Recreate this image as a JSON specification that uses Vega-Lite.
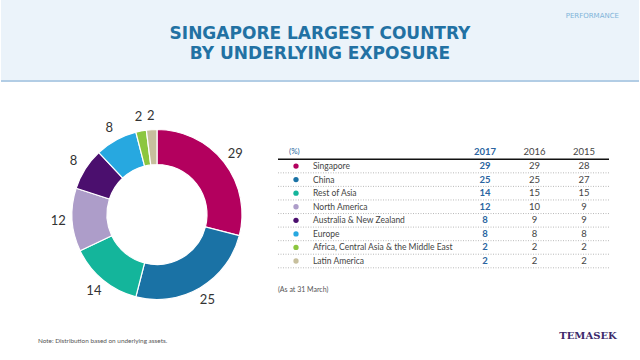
{
  "$schema": "https://vega.github.io/schema/vega-lite/v6.json",
  "width": 640,
  "height": 360,
  "autosize": {"type": "fit", "contains": "padding"},
  "padding": 0,
  "background": "white",
  "config": {"view": {"stroke": null}, "font": "Lato", "text": {"font": "Lato", "baseline": "middle"}},
  "datasets": {
    "regions": [
      {"region": "Singapore", "idx": 1, "2017": 29, "2016": 29, "2015": 28},
      {"region": "China", "idx": 2, "2017": 25, "2016": 25, "2015": 27},
      {"region": "Rest of Asia", "idx": 3, "2017": 14, "2016": 15, "2015": 15},
      {"region": "North America", "idx": 4, "2017": 12, "2016": 10, "2015": 9},
      {"region": "Australia & New Zealand", "idx": 5, "2017": 8, "2016": 9, "2015": 9},
      {"region": "Europe", "idx": 6, "2017": 8, "2016": 8, "2015": 8},
      {"region": "Africa, Central Asia & the Middle East", "idx": 7, "2017": 2, "2016": 2, "2015": 2},
      {"region": "Latin America", "idx": 8, "2017": 2, "2016": 2, "2015": 2}
    ],
    "header": [
      {"row": "(%)", "year": "2017"},
      {"row": "(%)", "year": "2016"},
      {"row": "(%)", "year": "2015"}
    ]
  },
  "resolve": {"scale": {"x": "independent", "y": "independent", "color": "independent", "theta": "independent", "radius": "independent"}},
  "layer": [
    {
      "data": {"values": [{"part": "header"}]},
      "mark": {"type": "rect", "color": "#ebf3fa"},
      "encoding": {
        "y": {"field": "part", "type": "nominal", "axis": null, "scale": {"type": "band", "range": [0, 81], "paddingInner": 0, "paddingOuter": 0}}
      }
    },
    {
      "data": {"values": [{"part": "header"}]},
      "mark": {"type": "rule", "color": "#b2cde5", "strokeWidth": 2},
      "encoding": {
        "y": {"field": "part", "type": "nominal", "bandPosition": 1, "axis": null, "scale": {"type": "band", "range": [0, 81], "paddingInner": 0, "paddingOuter": 0}}
      }
    },
    {
      "data": {"values": [{"line": "SINGAPORE LARGEST COUNTRY"}, {"line": "BY UNDERLYING EXPOSURE"}]},
      "mark": {"type": "text", "font": "DejaVu Sans", "fontSize": 17, "fontWeight": 700, "color": "#2271a3", "align": "center"},
      "encoding": {
        "text": {"field": "line"},
        "y": {"field": "line", "type": "nominal", "axis": null, "sort": null, "scale": {"type": "point", "padding": 0, "range": [33.5, 53.5]}}
      }
    },
    {
      "data": {"values": [{"label": "PERFORMANCE"}]},
      "mark": {"type": "text", "font": "DejaVu Sans", "fontSize": 7, "color": "#7fb3d9", "align": "right"},
      "encoding": {
        "text": {"field": "label"},
        "x": {"field": "label", "type": "nominal", "axis": null, "scale": {"type": "point", "range": [618, 618]}},
        "y": {"field": "label", "type": "nominal", "axis": null, "scale": {"type": "point", "range": [16, 16]}}
      }
    },
    {
      "data": {"name": "regions"},
      "mark": {"type": "arc", "innerRadius": 50, "outerRadius": 85, "stroke": "white", "strokeWidth": 1.2},
      "encoding": {
        "theta": {"field": "2017", "type": "quantitative", "stack": true},
        "order": {"field": "idx", "type": "quantitative"},
        "color": {"field": "region", "type": "nominal", "legend": null, "scale": {
          "domain": ["Singapore", "China", "Rest of Asia", "North America", "Australia & New Zealand", "Europe", "Africa, Central Asia & the Middle East", "Latin America"],
          "range": ["#b3005e", "#1a72a5", "#14b59b", "#ad9dc9", "#4b0f6e", "#27a8e0", "#8cc63f", "#c7bf9d"]}},
        "x": {"datum": "donut", "type": "nominal", "axis": null, "scale": {"type": "point", "range": [156, 156]}},
        "y": {"datum": "donut", "type": "nominal", "axis": null, "scale": {"type": "point", "range": [214.5, 214.5]}}
      }
    },
    {
      "data": {"name": "regions"},
      "mark": {"type": "text", "radius": 99, "fontSize": 13, "color": "#333333", "align": "center"},
      "encoding": {
        "theta": {"field": "2017", "type": "quantitative", "stack": true},
        "order": {"field": "idx", "type": "quantitative"},
        "text": {"field": "2017", "type": "quantitative"},
        "x": {"datum": "donut", "type": "nominal", "axis": null, "scale": {"type": "point", "range": [156, 156]}},
        "y": {"datum": "donut", "type": "nominal", "axis": null, "scale": {"type": "point", "range": [214.5, 214.5]}}
      }
    },
    {
      "data": {"values": [{"row": "(%)"}]},
      "mark": {"type": "rule", "color": "#111111", "strokeWidth": 1.5},
      "encoding": {
        "y": {"field": "row", "type": "nominal", "bandPosition": 1, "axis": null, "scale": {"type": "band", "paddingInner": 0, "paddingOuter": 0, "range": [145.7, 267.8],
          "domain": ["(%)", "Singapore", "China", "Rest of Asia", "North America", "Australia & New Zealand", "Europe", "Africa, Central Asia & the Middle East", "Latin America"]}},
        "x": {"datum": 0, "type": "quantitative", "axis": null, "scale": {"domain": [0, 1], "range": [277, 608]}},
        "x2": {"datum": 1}
      }
    },
    {
      "data": {"name": "regions"},
      "mark": {"type": "rule", "color": "#a8a8a8", "strokeWidth": 0.8, "strokeDash": [1, 1.5]},
      "encoding": {
        "y": {"field": "region", "type": "nominal", "bandPosition": 1, "axis": null, "scale": {"type": "band", "paddingInner": 0, "paddingOuter": 0, "range": [145.7, 267.8],
          "domain": ["(%)", "Singapore", "China", "Rest of Asia", "North America", "Australia & New Zealand", "Europe", "Africa, Central Asia & the Middle East", "Latin America"]}},
        "x": {"datum": 0, "type": "quantitative", "axis": null, "scale": {"domain": [0, 1], "range": [277, 608]}},
        "x2": {"datum": 1}
      }
    },
    {
      "data": {"values": [{"row": "(%)"}]},
      "mark": {"type": "text", "fontSize": 8, "color": "#2a6aa3", "align": "left"},
      "encoding": {
        "text": {"field": "row"},
        "y": {"field": "row", "type": "nominal", "axis": null, "scale": {"type": "band", "paddingInner": 0, "paddingOuter": 0, "range": [145.7, 267.8],
          "domain": ["(%)", "Singapore", "China", "Rest of Asia", "North America", "Australia & New Zealand", "Europe", "Africa, Central Asia & the Middle East", "Latin America"]}},
        "x": {"field": "row", "type": "nominal", "axis": null, "scale": {"type": "point", "range": [288, 288]}}
      }
    },
    {
      "data": {"name": "header"},
      "transform": [{"filter": "datum.year == '2017'"}],
      "mark": {"type": "text", "fontSize": 9.5, "fontWeight": 700, "color": "#2a64a0", "align": "center"},
      "encoding": {
        "text": {"field": "year"},
        "y": {"field": "row", "type": "nominal", "axis": null, "scale": {"type": "band", "paddingInner": 0, "paddingOuter": 0, "range": [145.7, 267.8],
          "domain": ["(%)", "Singapore", "China", "Rest of Asia", "North America", "Australia & New Zealand", "Europe", "Africa, Central Asia & the Middle East", "Latin America"]}},
        "x": {"field": "year", "type": "nominal", "axis": null, "scale": {"type": "point", "padding": 0, "domain": ["2017", "2016", "2015"], "range": [484, 583]}}
      }
    },
    {
      "data": {"name": "header"},
      "transform": [{"filter": "datum.year != '2017'"}],
      "mark": {"type": "text", "fontSize": 9.5, "color": "#444444", "align": "center"},
      "encoding": {
        "text": {"field": "year"},
        "y": {"field": "row", "type": "nominal", "axis": null, "scale": {"type": "band", "paddingInner": 0, "paddingOuter": 0, "range": [145.7, 267.8],
          "domain": ["(%)", "Singapore", "China", "Rest of Asia", "North America", "Australia & New Zealand", "Europe", "Africa, Central Asia & the Middle East", "Latin America"]}},
        "x": {"field": "year", "type": "nominal", "axis": null, "scale": {"type": "point", "padding": 0, "domain": ["2017", "2016", "2015"], "range": [484, 583]}}
      }
    },
    {
      "data": {"name": "regions"},
      "transform": [{"fold": ["2017", "2016", "2015"], "as": ["year", "pct"]}, {"filter": "datum.year == '2017'"}],
      "mark": {"type": "text", "fontSize": 9.5, "fontWeight": 700, "color": "#2a64a0", "align": "center"},
      "encoding": {
        "text": {"field": "pct", "type": "quantitative"},
        "y": {"field": "region", "type": "nominal", "axis": null, "scale": {"type": "band", "paddingInner": 0, "paddingOuter": 0, "range": [145.7, 267.8],
          "domain": ["(%)", "Singapore", "China", "Rest of Asia", "North America", "Australia & New Zealand", "Europe", "Africa, Central Asia & the Middle East", "Latin America"]}},
        "x": {"field": "year", "type": "nominal", "axis": null, "scale": {"type": "point", "padding": 0, "domain": ["2017", "2016", "2015"], "range": [484, 583]}}
      }
    },
    {
      "data": {"name": "regions"},
      "transform": [{"fold": ["2017", "2016", "2015"], "as": ["year", "pct"]}, {"filter": "datum.year != '2017'"}],
      "mark": {"type": "text", "fontSize": 9.5, "color": "#444444", "align": "center"},
      "encoding": {
        "text": {"field": "pct", "type": "quantitative"},
        "y": {"field": "region", "type": "nominal", "axis": null, "scale": {"type": "band", "paddingInner": 0, "paddingOuter": 0, "range": [145.7, 267.8],
          "domain": ["(%)", "Singapore", "China", "Rest of Asia", "North America", "Australia & New Zealand", "Europe", "Africa, Central Asia & the Middle East", "Latin America"]}},
        "x": {"field": "year", "type": "nominal", "axis": null, "scale": {"type": "point", "padding": 0, "domain": ["2017", "2016", "2015"], "range": [484, 583]}}
      }
    },
    {
      "data": {"name": "regions"},
      "mark": {"type": "point", "filled": true, "size": 28, "opacity": 1},
      "encoding": {
        "color": {"field": "region", "type": "nominal", "legend": null, "scale": {
          "domain": ["Singapore", "China", "Rest of Asia", "North America", "Australia & New Zealand", "Europe", "Africa, Central Asia & the Middle East", "Latin America"],
          "range": ["#b3005e", "#1a72a5", "#14b59b", "#ad9dc9", "#4b0f6e", "#27a8e0", "#8cc63f", "#c7bf9d"]}},
        "y": {"field": "region", "type": "nominal", "axis": null, "scale": {"type": "band", "paddingInner": 0, "paddingOuter": 0, "range": [145.7, 267.8],
          "domain": ["(%)", "Singapore", "China", "Rest of Asia", "North America", "Australia & New Zealand", "Europe", "Africa, Central Asia & the Middle East", "Latin America"]}},
        "x": {"datum": "dot", "type": "nominal", "axis": null, "scale": {"type": "point", "range": [295, 295]}}
      }
    },
    {
      "data": {"name": "regions"},
      "mark": {"type": "text", "fontSize": 8.5, "color": "#444444", "align": "left"},
      "encoding": {
        "text": {"field": "region"},
        "y": {"field": "region", "type": "nominal", "axis": null, "scale": {"type": "band", "paddingInner": 0, "paddingOuter": 0, "range": [145.7, 267.8],
          "domain": ["(%)", "Singapore", "China", "Rest of Asia", "North America", "Australia & New Zealand", "Europe", "Africa, Central Asia & the Middle East", "Latin America"]}},
        "x": {"datum": "name", "type": "nominal", "axis": null, "scale": {"type": "point", "range": [312, 312]}}
      }
    },
    {
      "data": {"values": [{"label": "(As at 31 March)"}]},
      "mark": {"type": "text", "fontSize": 7, "color": "#555555", "align": "left"},
      "encoding": {
        "text": {"field": "label"},
        "x": {"field": "label", "type": "nominal", "axis": null, "scale": {"type": "point", "range": [277, 277]}},
        "y": {"field": "label", "type": "nominal", "axis": null, "scale": {"type": "point", "range": [290, 290]}}
      }
    },
    {
      "data": {"values": [{"label": "Note: Distribution based on underlying assets."}]},
      "mark": {"type": "text", "fontSize": 6.4, "color": "#555555", "align": "left"},
      "encoding": {
        "text": {"field": "label"},
        "x": {"field": "label", "type": "nominal", "axis": null, "scale": {"type": "point", "range": [37, 37]}},
        "y": {"field": "label", "type": "nominal", "axis": null, "scale": {"type": "point", "range": [341, 341]}}
      }
    },
    {
      "data": {"values": [{"label": "TEMASEK"}]},
      "mark": {"type": "text", "font": "DejaVu Serif", "fontSize": 10, "fontWeight": 700, "color": "#3d2a6b", "align": "center"},
      "encoding": {
        "text": {"field": "label"},
        "x": {"field": "label", "type": "nominal", "axis": null, "scale": {"type": "point", "range": [587, 587]}},
        "y": {"field": "label", "type": "nominal", "axis": null, "scale": {"type": "point", "range": [336, 336]}}
      }
    }
  ]
}
